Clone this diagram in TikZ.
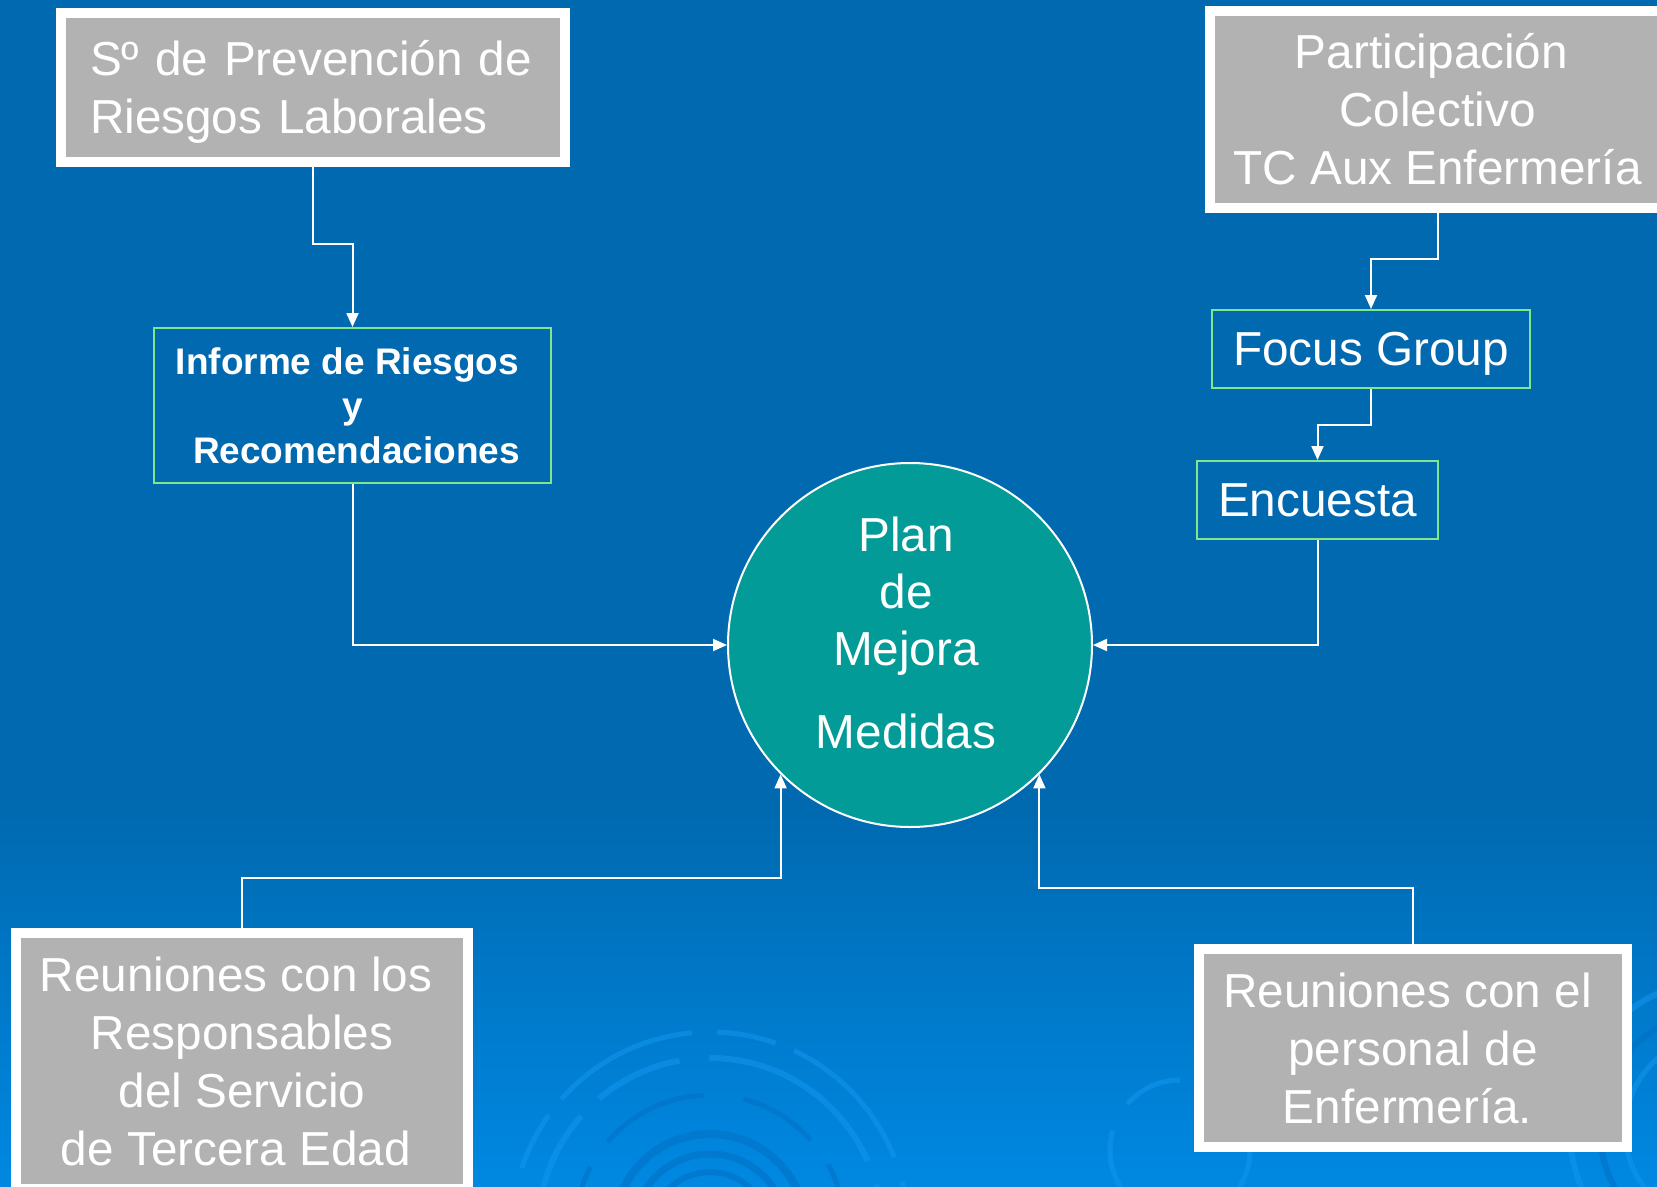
\documentclass[tikz,border=0pt]{standalone}
\usepackage{fontspec}
\setmainfont{Liberation Sans}
\usetikzlibrary{arrows.meta,calc}
\definecolor{bgtop}{RGB}{0,105,175}
\definecolor{bgbot}{RGB}{0,136,226}
\definecolor{ringlight}{RGB}{20,150,238}
\definecolor{ringdark}{RGB}{0,112,196}
\definecolor{boxgray}{RGB}{178,178,178}
\definecolor{boxgreen}{RGB}{128,230,140}
\definecolor{circteal}{RGB}{3,155,152}
\begin{document}
\begin{tikzpicture}[x=1pt,y=-1pt,
  bigfont/.style={font=\fontsize{47.7}{58}\selectfont},
  graybox/.style={draw=white,fill=boxgray,line width=10pt,text=white,bigfont,align=center,inner sep=0pt},
  greenbox/.style={draw=boxgreen,line width=2pt,text=white,inner sep=0pt},
  conn/.style={draw=white,line width=2pt,-{Triangle[length=14pt,width=12pt]}},
]
\clip (0,0) rectangle (1657,1186);
% background
\fill[bgtop] (0,0) rectangle (1657,1186);
\shade[top color=bgtop,bottom color=bgbot] (0,800) rectangle (1657,1186);
% decorative swirls
\begin{scope}[opacity=0.55]
\draw[ringlight,line width=5pt,dash pattern=on 150pt off 25pt on 60pt off 20pt] (710,1230) circle (198);
\draw[ringlight,line width=6pt,dash pattern=on 90pt off 30pt on 200pt off 25pt] (710,1230) circle (172);
\draw[ringdark,line width=5pt,dash pattern=on 110pt off 40pt on 80pt off 30pt] (710,1230) circle (135);
\draw[ringdark,line width=8pt] (710,1230) circle (96);
\draw[ringdark,line width=7pt] (710,1230) circle (76);
\draw[ringdark,line width=6pt] (710,1230) circle (58);
\draw[ringlight,line width=6pt] (1720,1130) circle (150);
\draw[ringdark,line width=6pt] (1720,1130) circle (120);
\draw[ringlight,line width=5pt] (1720,1130) circle (95);
\draw[ringlight,line width=5pt,dash pattern=on 60pt off 30pt] (1180,1150) circle (70);
\end{scope}

% nodes
\node[graybox,align=left,text width=446pt,inner xsep=29pt,minimum width=504pt,minimum height=149pt] (prev) at (313,87.5)
  {S\textordmasculine{} de Prevención de\\\smash{Riesgos} Laborales};
\node[graybox,minimum width=455pt,minimum height=197pt] (part) at (1437.5,109.5)
  {Participación\hspace*{12pt}\\Colectivo\\TC Aux Enfermería};
\node[greenbox,minimum width=397pt,minimum height=155pt,align=center,font=\fontsize{37}{44.5}\selectfont\bfseries] (inf) at (352.5,405.5)
  {Informe de Riesgos\hspace*{10pt}\\y\\\hspace*{8pt}Recomendaciones};
\node[greenbox,bigfont,minimum width=318pt,minimum height=78pt,text depth=0pt] (focus) at (1371,349) {Focus Group};
\node[greenbox,bigfont,minimum width=241pt,minimum height=78pt] (enc) at (1317.5,500) {Encuesta};
\node[circle,draw=white,line width=2pt,fill=circteal,minimum size=364pt,inner sep=0pt] (plan) at (910,645) {};
\node[text=white,align=center,font=\fontsize{47.7}{57}\selectfont] (plantext) at ($(plan.center)+(-4,-12)$)
  {Plan\\de\\Mejora\\[26pt]Medidas};
\node[graybox,minimum width=452pt,minimum height=256pt] (resp) at (242,1061)
  {Reuniones con los\hspace*{12pt}\\Responsables\hspace*{12pt}\\del Servicio\\de Tercera Edad\hspace*{12pt}};
\node[graybox,minimum width=428pt,minimum height=198pt] (pers) at (1413,1048)
  {Reuniones con el\hspace*{11pt}\\personal de\\Enfermería.\hspace*{11pt}};

% connectors
\draw[conn] (prev.south) -- ++(0,77) -| (inf.north);
\draw[conn] (inf.south) |- (plan.west);
\draw[conn] (part.south) -- ++(0,46) -| (focus.north);
\draw[conn] (focus.south) -- ++(0,36) -| (enc.north);
\draw[conn] (enc.south) |- (plan.east);
\draw[conn] (resp.north) -- ++(0,-50) -| (plan.225);
\draw[conn] (pers.north) -- ++(0,-56) -| (plan.315);
\end{tikzpicture}
\end{document}
